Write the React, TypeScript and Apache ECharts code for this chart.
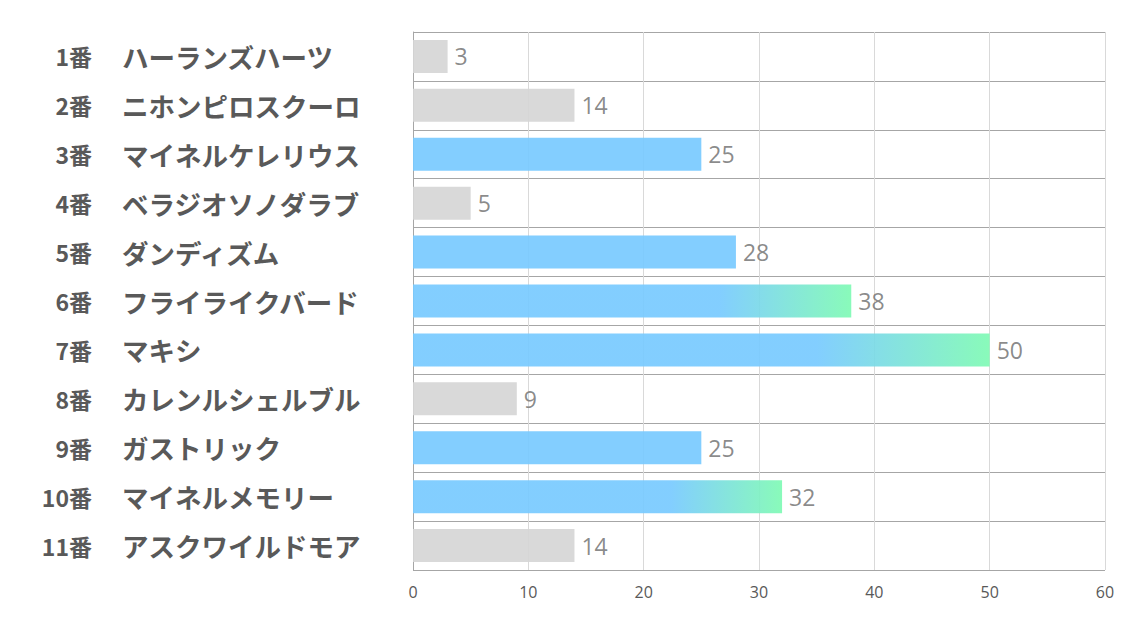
import React, { useEffect, useRef } from "react";
import * as echarts from "echarts";

const numbers = ["1番", "2番", "3番", "4番", "5番", "6番", "7番", "8番", "9番", "10番", "11番"];
const names = [
  "ハーランズハーツ",
  "ニホンピロスクーロ",
  "マイネルケレリウス",
  "ベラジオソノダラブ",
  "ダンディズム",
  "フライライクバード",
  "マキシ",
  "カレンルシェルブル",
  "ガストリック",
  "マイネルメモリー",
  "アスクワイルドモア",
];
const values = [3, 14, 25, 5, 28, 38, 50, 9, 25, 32, 14];
const kinds = ["gray", "gray", "blue", "gray", "blue", "grad", "grad", "gray", "blue", "grad", "gray"];
const xTicks = [0, 10, 20, 30, 40, 50, 60];

const BLUE = "#78caff";
const GREEN = "#7ffab4";
const GRAY = "#d6d6d6";
const JP = "'Noto Sans CJK JP', sans-serif";

function colorFor(kind: string) {
  if (kind === "gray") return GRAY;
  if (kind === "blue") return BLUE;
  return new echarts.graphic.LinearGradient(0, 0, 1, 0, [
    { offset: 0, color: BLUE },
    { offset: 0.7, color: BLUE },
    { offset: 1, color: GREEN },
  ]);
}

export default function App() {
  const ref = useRef<HTMLDivElement>(null);
  useEffect(() => {
    if (!ref.current) return;
    const chart = echarts.init(ref.current, undefined, { renderer: "svg" });
    chart.setOption({
      animation: false,
      grid: { left: 413, right: 29, top: 32, bottom: 53, containLabel: false },
      xAxis: {
        type: "value",
        min: xTicks[0],
        max: xTicks[xTicks.length - 1],
        interval: 10,
        axisLine: { show: false },
        axisTick: { show: false },
        splitLine: { show: true, lineStyle: { color: "#d9d9d9", width: 1 } },
        axisLabel: {
          color: "#595959",
          fontSize: 16,
          margin: 14,
          fontFamily: "'Open Sans', 'Noto Sans', sans-serif",
        },
      },
      yAxis: [
        {
          type: "category",
          inverse: true,
          data: names,
          axisLine: { show: true, lineStyle: { color: "#a6a6a6" } },
          axisTick: { show: false },
          splitLine: { show: true, lineStyle: { color: "#a6a6a6", width: 1 } },
          axisLabel: {
            margin: 291,
            align: "left",
            fontSize: 26.5,
            fontWeight: "bold",
            color: "#595959",
            fontFamily: JP,
          },
        },
        {
          type: "category",
          inverse: true,
          position: "left",
          data: numbers,
          axisLine: { show: false },
          axisTick: { show: false },
          splitLine: { show: false },
          axisLabel: {
            margin: 321,
            align: "right",
            fontSize: 23,
            fontWeight: "bold",
            color: "#595959",
            fontFamily: JP,
          },
        },
      ],
      series: [
        {
          type: "bar",
          yAxisIndex: 0,
          barWidth: 33,
          data: values.map((v, i) => ({
            value: v,
            itemStyle: { color: colorFor(kinds[i]), opacity: 0.92 },
          })),
          label: {
            show: true,
            position: "right",
            distance: 7,
            color: "#7f7f7f",
            fontSize: 23,
            fontFamily: "'Open Sans', 'Noto Sans', sans-serif",
          },
        },
      ],
    });
    return () => chart.dispose();
  }, []);
  return <div ref={ref} style={{ width: 1134, height: 623, position: "absolute", left: 0, top: 0 }} />;
}
